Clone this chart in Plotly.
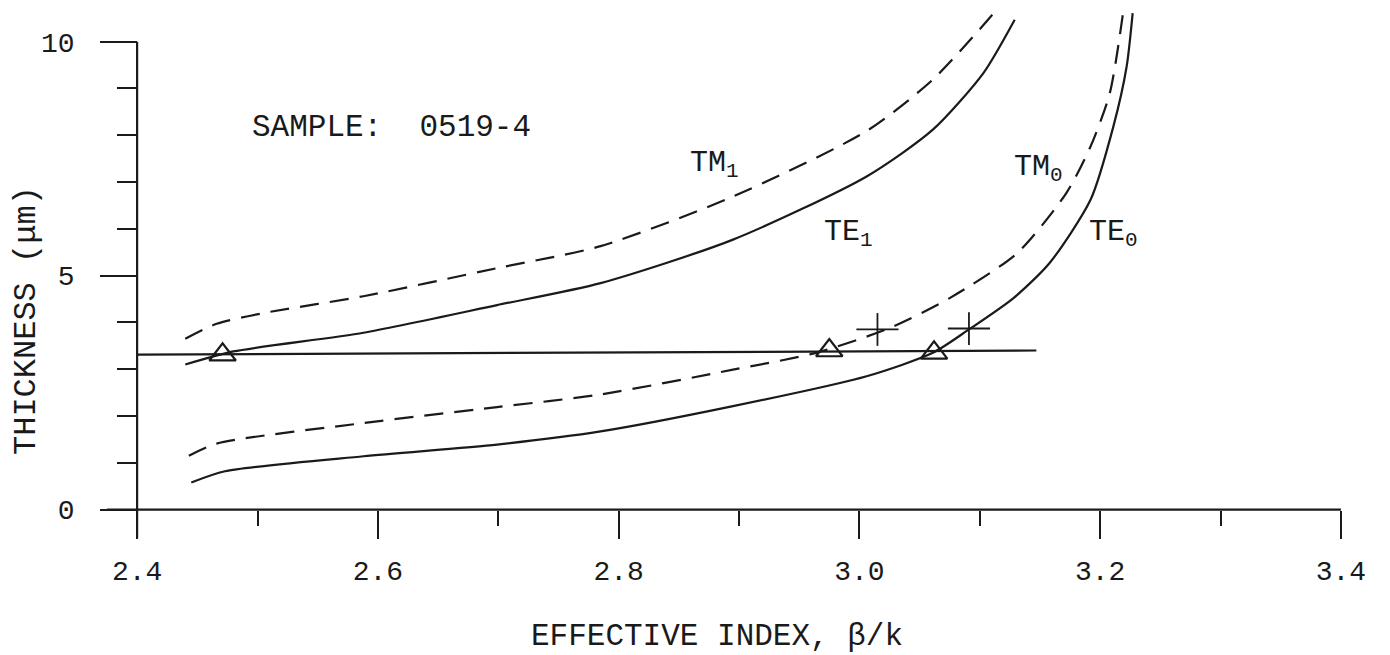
import plotly.graph_objects as go

# ---- data ----
te0_x = [2.445, 2.473, 2.588, 2.699, 2.785, 2.895, 3.006, 3.061, 3.091, 3.128, 3.158, 3.192, 3.211, 3.222, 3.227]
te0_y = [0.58, 0.82, 1.14, 1.39, 1.67, 2.21, 2.85, 3.35, 3.85, 4.52, 5.27, 6.62, 8.19, 9.47, 10.61]

tm0_x = [2.443, 2.466, 2.588, 2.699, 2.785, 2.895, 2.964, 3.025, 3.075, 3.131, 3.172, 3.192, 3.208, 3.219]
tm0_y = [1.15, 1.41, 1.85, 2.19, 2.46, 2.99, 3.35, 3.88, 4.52, 5.48, 6.77, 7.76, 8.90, 10.61]

te1_x = [2.440, 2.480, 2.588, 2.699, 2.785, 2.895, 3.006, 3.061, 3.103, 3.129]
te1_y = [3.10, 3.38, 3.78, 4.37, 4.84, 5.77, 7.12, 8.12, 9.33, 10.47]

tm1_x = [2.440, 2.466, 2.505, 2.588, 2.699, 2.785, 2.895, 3.006, 3.061, 3.113]
tm1_y = [3.65, 3.97, 4.20, 4.56, 5.16, 5.63, 6.69, 8.09, 9.19, 10.65]

level_x = [2.40, 3.147]
level_y = [3.31, 3.40]

tri_x = [2.471, 2.975, 3.062]
tri_y = [3.31, 3.40, 3.35]

plus_x = [3.015, 3.091]
plus_y = [3.85, 3.87]

x_ticks = [2.4, 2.6, 2.8, 3.0, 3.2, 3.4]
x_ticktext = ["2.4", "2.6", "2.8", "3.0", "3.2", "3.4"]
y_ticks = [0, 5, 10]
y_ticktext = ["0", "5", "10"]

# ---- styling ----
INK = "#1a1a1a"
FONT = "Liberation Mono, DejaVu Sans Mono, monospace"
LW = 2.2
X_RANGE = [2.37, 3.42]
Y_RANGE = [-0.65, 10.72]
# page body has an 8px margin, so the figure is 8px smaller than the window
FIG_W, FIG_H = 1382, 647
ML, MR, MT, MB = 93, 25, 0, 115
PW, PH = FIG_W - ML - MR, FIG_H - MT - MB


def px_to_paper_x(px):  # window pixel -> paper fraction
    return (px - 8 - ML) / PW


def px_to_paper_y(py):
    return (PH - (py - 8 - MT)) / PH


fig = go.Figure()


def curve(x, y, dashed, shape="spline"):
    fig.add_trace(go.Scatter(
        x=x, y=y, mode="lines",
        line=dict(color=INK, width=LW, shape=shape, smoothing=0.7,
                  dash="19px,11px" if dashed else "solid"),
        hoverinfo="skip", showlegend=False))


curve(te0_x, te0_y, False)
curve(tm0_x, tm0_y, True)
curve(te1_x, te1_y, False)
curve(tm1_x, tm1_y, True)
curve(level_x, level_y, False, shape="linear")

fig.add_trace(go.Scatter(
    x=tri_x, y=tri_y, mode="markers",
    marker=dict(symbol="triangle-up-open", size=23, color=INK, line=dict(width=2.2, color=INK)),
    showlegend=False, hoverinfo="skip"))

fig.add_trace(go.Scatter(
    x=plus_x, y=plus_y, mode="markers",
    marker=dict(size=1, color=INK),
    error_x=dict(type="constant", value=0.0175, width=0, thickness=1.8, color=INK),
    error_y=dict(type="constant", value=0.35, width=0, thickness=1.8, color=INK),
    showlegend=False, hoverinfo="skip"))

# axis lines (decorations)
fig.add_shape(type="line", xref="x", yref="y", x0=2.375, x1=3.4, y0=0, y1=0,
              line=dict(color=INK, width=2.2))
fig.add_shape(type="line", xref="x", yref="y", x0=2.4, x1=2.4, y0=-0.6, y1=10,
              line=dict(color=INK, width=2.2))

tickfont = dict(family=FONT, size=28, color=INK)

fig.update_layout(
    width=FIG_W, height=FIG_H,
    margin=dict(l=ML, r=MR, t=MT, b=MB, pad=0),
    paper_bgcolor="white", plot_bgcolor="white",
    xaxis=dict(
        range=X_RANGE, anchor="free",
        position=(0 - Y_RANGE[0]) / (Y_RANGE[1] - Y_RANGE[0]),
        showgrid=False, zeroline=False, showline=False,
        tickmode="array", tickvals=x_ticks, ticktext=x_ticktext,
        ticks="outside", ticklen=28, tickwidth=2, tickcolor=INK,
        ticklabelstandoff=8,
        minor=dict(tickmode="linear", tick0=2.4, dtick=0.1, ticks="outside",
                   ticklen=15, tickwidth=2, tickcolor=INK, showgrid=False),
        tickfont=tickfont,
    ),
    yaxis=dict(
        range=Y_RANGE, anchor="free",
        position=(2.4 - X_RANGE[0]) / (X_RANGE[1] - X_RANGE[0]),
        showgrid=False, zeroline=False, showline=False,
        tickmode="array", tickvals=y_ticks, ticktext=y_ticktext,
        ticks="outside", ticklen=37, tickwidth=2, tickcolor=INK,
        ticklabelstandoff=20,
        minor=dict(tickmode="linear", tick0=0, dtick=1, ticks="outside",
                   ticklen=20, tickwidth=2, tickcolor=INK, showgrid=False),
        tickfont=tickfont,
    ),
)


def label(text, x, y, size=30, xanchor="left"):
    fig.add_annotation(text=text, x=x, y=y, xref="x", yref="y",
                       xanchor=xanchor, yanchor="middle", showarrow=False,
                       font=dict(family=FONT, size=size, color=INK))


label("SAMPLE:  0519-4", 2.4938, 8.16, size=31)
label("TM<sub>1</sub>", 2.8576, 7.38)
label("TE<sub>1</sub>", 2.9689, 5.90)
label("TM<sub>0</sub>", 3.1270, 7.30)
label("TE<sub>0</sub>", 3.1890, 5.90)

fig.add_annotation(text="EFFECTIVE INDEX, β/k", xref="paper", yref="paper",
                   x=px_to_paper_x(717), y=px_to_paper_y(636),
                   xanchor="center", yanchor="middle", showarrow=False,
                   font=dict(family=FONT, size=31, color=INK))
fig.add_annotation(text="THICKNESS (μm)", xref="paper", yref="paper",
                   x=px_to_paper_x(26), y=px_to_paper_y(321), textangle=-90,
                   xanchor="center", yanchor="middle", showarrow=False,
                   font=dict(family=FONT, size=32, color=INK))

fig.write_html("out.html")
